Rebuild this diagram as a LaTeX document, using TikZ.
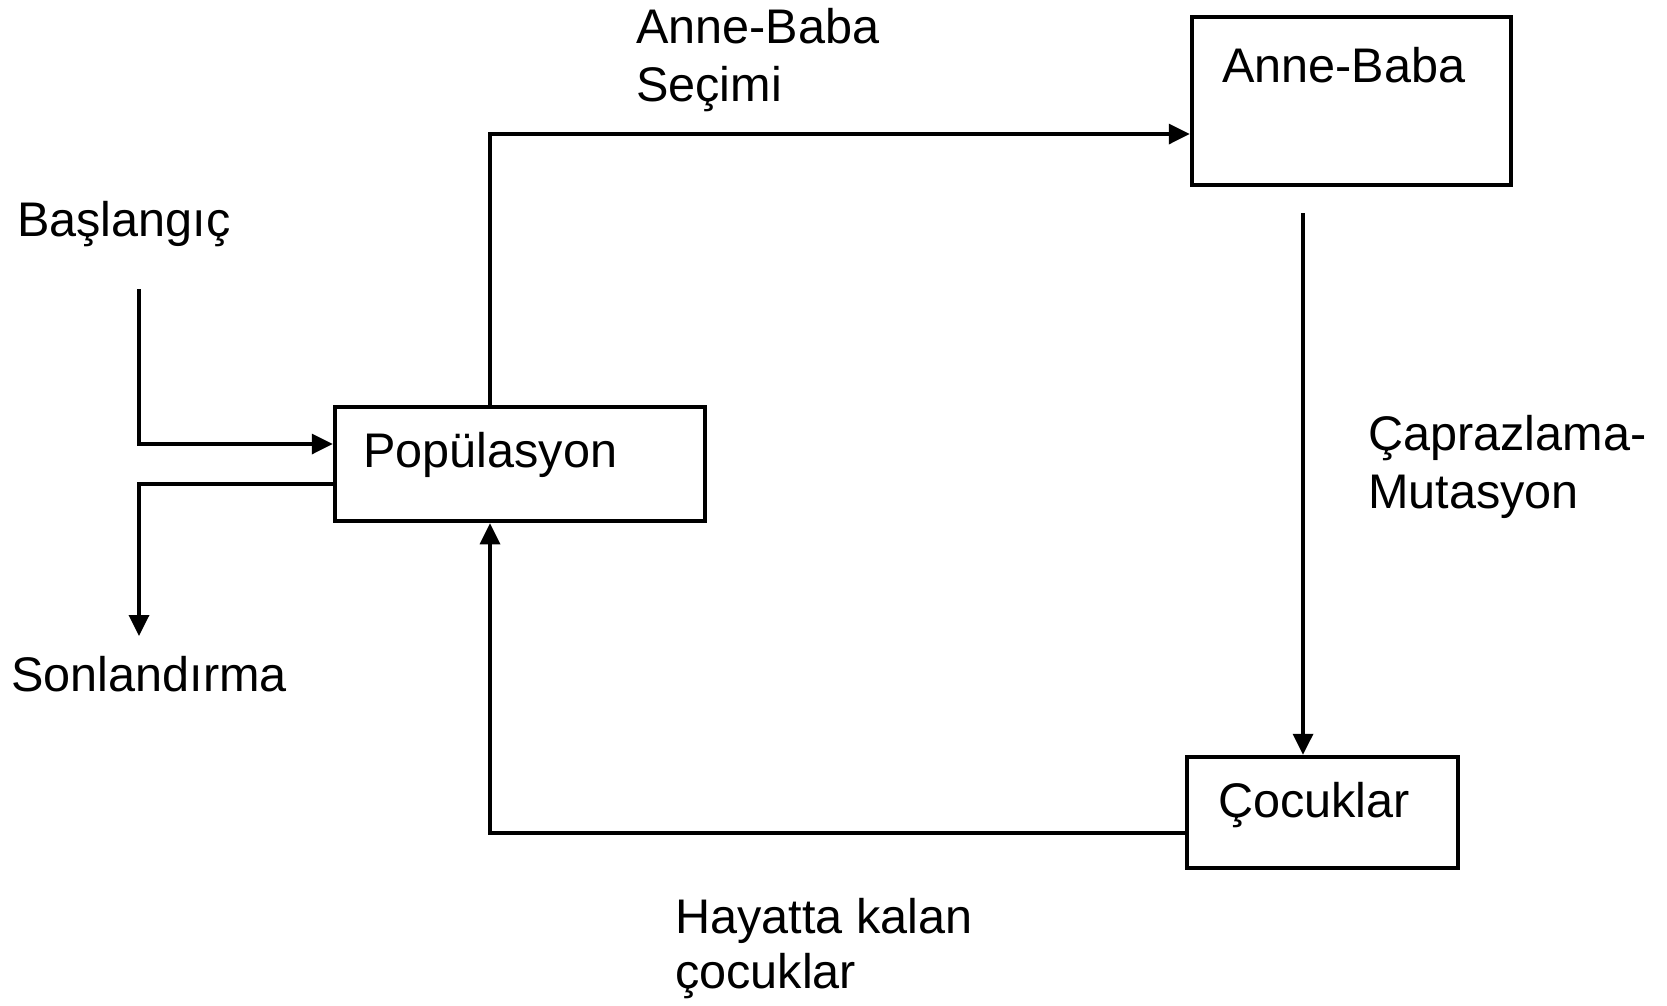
\documentclass[tikz,border=0pt]{standalone}
\usepackage{fontspec}
\setmainfont{Liberation Sans}
\usetikzlibrary{arrows.meta}
\begin{document}
\begin{tikzpicture}[x=1pt,y=-1pt,
  box/.style={draw=black,line width=4.5pt,rectangle,inner sep=0pt},
  lbl/.style={anchor=base west,inner sep=0pt,font=\fontsize{48.6}{58}\selectfont,text=black},
  conn/.style={line width=3.5pt,draw=black},
  arr/.style={conn,-{Triangle[length=21pt,width=20pt]}}]
\useasboundingbox[fill=white] (0,0) rectangle (1667,1005);
% boxes
\node[box,minimum width=370pt,minimum height=114pt] (pop) at (520,464) {};
\node[box,minimum width=319pt,minimum height=168pt] (anne) at (1351.5,101) {};
\node[box,minimum width=271pt,minimum height=111pt] (cocuk) at (1322.5,812.5) {};
% texts
\node[lbl] (tpop) at (363,467) {Popülasyon};
\node[lbl] (tanne) at (1222,82) {Anne-Baba};
\node[lbl] (tcocuk) at (1218,817) {Çocuklar};
\node[lbl] (tbas) at (17,236) {Başlangıç};
\node[lbl] (tson) at (11,691) {Sonlandırma};
\node[lbl] (tsec1) at (636,43) {Anne-Baba};
\node[lbl] (tsec2) at (636,101) {Seçimi};
\node[lbl] (tcap1) at (1368,450) {Çaprazlama-};
\node[lbl] (tcap2) at (1368,508) {Mutasyon};
\node[lbl] (thay1) at (675,933) {Hayatta kalan};
\node[lbl] (thay2) at (675,988) {çocuklar};
% helper coordinates
\coordinate (c1) at (490,134);
\coordinate (c2) at (1303,213);
\coordinate (c3) at (490,833);
\coordinate (s1) at (139,289);
\coordinate (s2) at (139,444);
\coordinate (e1) at (139,484);
\coordinate (e2) at (139,636);
% connectors
\draw[arr] (pop.north -| c1) -- (c1) -- (anne.west |- c1);
\draw[arr] (c2) -- (cocuk.north -| c2);
\draw[arr] (cocuk.west |- c3) -- (c3) -- (pop.south -| c3);
\draw[arr] (s1) -- (s2) -- (pop.west |- s2);
\draw[arr] (pop.west |- e1) -- (e1) -- (e2);
\end{tikzpicture}
\end{document}
